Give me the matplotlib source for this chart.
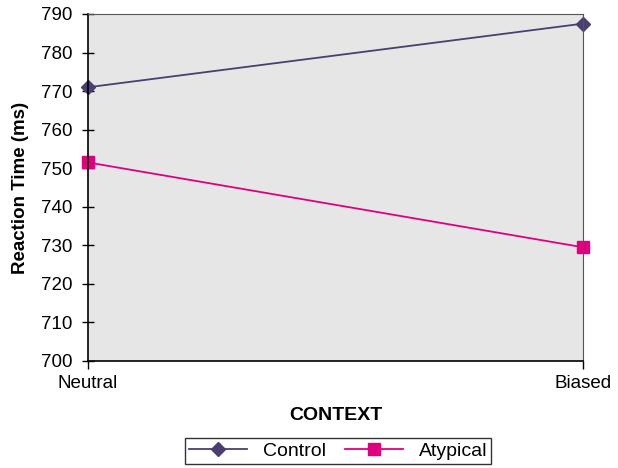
import matplotlib
matplotlib.use("Agg")
import matplotlib.pyplot as plt

categories = ["Neutral", "Biased"]
control = [771.0, 787.5]
atypical = [751.5, 729.5]
yticks = list(range(700, 791, 10))

plt.rcParams['font.family'] = ['Liberation Sans', 'DejaVu Sans']

fig = plt.figure(figsize=(6.18, 4.68), dpi=100)
ax = fig.add_axes([88/618, 1-361/468, (583-88)/618, (361-14)/468])
ax.set_facecolor('#e6e6e6')
x = list(range(len(categories)))
ax.plot(x, control, color='#4a3f70', lw=1.3, marker='D', ms=7, label='Control')
ax.plot(x, atypical, color='#e0007f', lw=1.3, marker='s', ms=9, label='Atypical')
ax.set_xlim(0, 1)
ax.set_ylim(700, 790)
ax.set_yticks(yticks)
ax.set_xticks(x)
ax.set_xticklabels(categories)
for s in ['top', 'right']:
    ax.spines[s].set_color('#555555')
    ax.spines[s].set_linewidth(0.8)
for s in ['left', 'bottom']:
    ax.spines[s].set_color('black')
    ax.spines[s].set_linewidth(1.2)
ax.tick_params(axis='y', direction='inout', length=8, width=1, labelsize=13.5, pad=7)
ax.tick_params(axis='x', direction='out', length=6, width=1, labelsize=13.5, pad=4)
for line in ax.get_lines():
    line.set_clip_on(False)
ax.set_ylabel('Reaction Time (ms)', fontsize=13.5, fontweight='bold', labelpad=9)
ax.set_xlabel('CONTEXT', fontsize=14, fontweight='bold', labelpad=11)
leg = fig.legend(loc='center', bbox_to_anchor=(338/618, 1-451/468), ncol=2,
                 fontsize=14, frameon=True, fancybox=False, edgecolor='black',
                 handlelength=3.0, columnspacing=1.0, handletextpad=0.8, borderpad=0.2)
leg.get_frame().set_linewidth(1.0)
fig.savefig('out.png', dpi=100)
